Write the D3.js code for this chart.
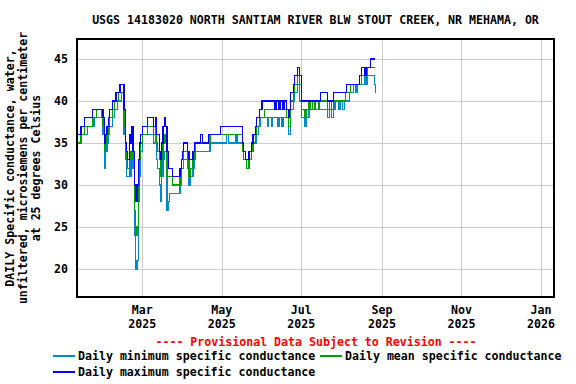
<!DOCTYPE html>
<html>
<head>
<meta charset="utf-8">
<script src="https://cdn.jsdelivr.net/npm/d3@7"></script>
<style>
body { margin: 0; background: #fff; }
text { font-family: "DejaVu Sans Mono", monospace; font-weight: bold; font-size: 11.6px; }
</style>
</head>
<body>
<script>
// daily values, first day 2025-01-10
var startDay = "2025-01-10";

var minVals = [
  35,35,35,36,36,36,36,36,37,37, 37,37,37,38,38,38,38,38,38,38,
  36,32,34,35,36,37,37,38,38,39, 39,40,40,40,41,41,36,33,31,31,
  33,31,33,32,24,20,21,28,31,34, 36,36,36,36,36,36,36,36,36,35,
  36,33,32,30,28,31,33,34,34,27, 28,29,29,29,29,29,29,29,29,30,
  32,32,33,33,33,32,30,31,31,32, 33,34,34,34,34,34,34,34,34,34,
  34,34,35,35,35,35,35,35,35,35, 35,35,35,35,35,36,35,35,35,35,
  35,35,36,35,35,35,35,34,33,33, 32,32,33,33,34,35,35,35,36,37,
  37,38,38,38,38,38,37,38,38,37, 38,38,38,38,37,38,38,37,38,38,
  38,38,36,36,39,39,40,41,41,42, 42,40,38,38,38,37,38,38,39,39,
  39,39,39,39,39,39,39,39,39,39, 39,39,38,38,39,38,38,39,40,40,
  40,39,40,40,39,40,40,40,40,41, 41,41,42,42,41,42,42,42,42,42,
  42,43,42,43,43,43,43,43,42,41
];

var meanVals = [
  35,35,35,36,36,36,37,37,37,37, 37,37,38,38,38,39,39,39,39,38,
  37,34,35,36,37,38,38,39,39,40, 40,40,41,41,41,41,37,34,33,32,
  34,33,34,33,27,24,25,30,33,35, 36,36,36,36,37,37,37,37,37,36,
  37,35,34,33,31,33,35,36,35,31, 31,31,31,30,30,30,30,30,30,31,
  33,33,34,34,34,33,31,32,32,33, 34,35,35,35,35,35,35,35,35,35,
  35,35,36,36,36,36,36,36,36,36, 36,36,36,36,36,36,36,36,36,36,
  36,36,36,36,36,36,36,34,33,33, 32,32,33,33,34,35,35,36,37,37,
  38,38,38,38,39,39,39,39,39,39, 39,39,39,39,39,39,39,39,39,39,
  39,38,37,37,40,40,41,42,42,43, 43,42,39,39,39,38,39,39,40,39,
  39,40,39,40,40,39,40,40,40,40, 40,40,39,39,40,39,39,40,40,40,
  40,40,40,40,40,40,41,41,41,41, 42,42,42,42,42,42,42,42,43,43,
  43,43,43,44,44,44,44,44,44,44
];

var maxVals = [
  36,36,36,37,37,37,38,38,38,38, 38,38,39,39,39,39,39,39,39,39,
  38,35,36,37,38,39,39,40,40,40, 41,41,41,42,42,42,39,35,34,33,
  36,35,37,34,30,28,30,33,35,36, 37,37,37,37,38,38,38,38,38,37,
  38,36,36,34,33,35,37,38,37,34, 32,32,32,31,31,31,31,31,31,32,
  33,34,35,35,35,34,33,33,33,34, 35,35,35,35,35,36,35,35,35,35,
  35,36,36,36,36,36,36,36,36,36, 37,37,37,37,37,37,37,37,37,37,
  37,37,37,37,37,37,37,35,34,33, 33,33,34,34,35,36,36,37,38,38,
  39,39,40,40,40,40,40,40,40,40, 40,40,39,40,40,39,40,40,39,40,
  40,39,38,39,41,41,42,43,43,44, 44,43,40,40,40,40,40,40,40,40,
  40,40,40,40,40,40,40,41,41,41, 41,41,40,40,40,40,40,41,41,41,
  41,41,41,41,41,41,41,42,42,42, 42,42,42,42,42,42,42,43,44,44,
  44,43,44,44,44,45,45,45,45,45
];

var yTicks = [20, 25, 30, 35, 40, 45];

var seriesNames = ["Daily minimum specific conductance",
                   "Daily mean specific conductance",
                   "Daily maximum specific conductance"];
var seriesColors = ["#0088cc", "#00a000", "#0000ff"];

var width = 576, height = 384;
var plot = {left: 77, right: 554, top: 39, bottom: 297};

var svg = d3.select("body").append("svg")
    .attr("width", width)
    .attr("height", height);

var parse = d3.timeParse("%Y-%m-%d");
var t0 = parse(startDay);

var x = d3.scaleTime()
    .domain([parse("2025-01-10"), parse("2026-01-11")])
    .range([plot.left, plot.right]);

var y = d3.scaleLinear()
    .domain([16.67, 47.38])
    .range([plot.bottom, plot.top]);

// grid
svg.append("g")
    .attr("transform", "translate(0," + plot.bottom + ")")
    .call(d3.axisBottom(x).ticks(d3.timeMonth.every(2)).tickSize(-(plot.bottom - plot.top)).tickFormat(""))
    .call(function(g) { g.select(".domain").remove(); })
    .selectAll("line").attr("stroke", "#cccccc").attr("shape-rendering", "crispEdges");

svg.append("g")
    .attr("transform", "translate(" + plot.left + ",0)")
    .call(d3.axisLeft(y).tickValues(yTicks).tickSize(-(plot.right - plot.left)).tickFormat(""))
    .call(function(g) { g.select(".domain").remove(); })
    .selectAll("line").attr("stroke", "#cccccc").attr("shape-rendering", "crispEdges");

// tick labels
svg.selectAll(".ylab")
  .data(yTicks)
  .enter().append("text")
    .attr("x", 68)
    .attr("y", function(d) { return y(d) + 4; })
    .attr("text-anchor", "end")
    .text(function(d) { return d; });

var months = x.ticks(d3.timeMonth.every(2));
var xl = svg.selectAll(".xlab")
  .data(months)
  .enter().append("text")
    .attr("text-anchor", "middle");
xl.append("tspan")
    .attr("x", function(d) { return x(d); })
    .attr("y", 314)
    .text(d3.timeFormat("%b"));
xl.append("tspan")
    .attr("x", function(d) { return x(d); })
    .attr("y", 328)
    .text(d3.timeFormat("%Y"));

// lines
svg.append("clipPath").attr("id", "clip")
  .append("rect")
    .attr("x", plot.left).attr("y", plot.top)
    .attr("width", plot.right - plot.left).attr("height", plot.bottom - plot.top);

var line = d3.line()
    .x(function(d, i) { return x(d3.timeDay.offset(t0, i)); })
    .y(function(d) { return y(d); })
    .curve(d3.curveStepAfter);

[minVals, meanVals, maxVals].forEach(function(vals, k) {
  svg.append("path")
      .datum(vals)
      .attr("clip-path", "url(#clip)")
      .attr("fill", "none")
      .attr("stroke", seriesColors[k])
      .attr("stroke-width", 1.2)
      .attr("shape-rendering", "crispEdges")
      .attr("d", line);
});

// frame
svg.append("rect")
    .attr("x", plot.left).attr("y", plot.top)
    .attr("width", plot.right - plot.left).attr("height", plot.bottom - plot.top)
    .attr("fill", "none")
    .attr("stroke", "#000")
    .attr("stroke-width", 1.3)
    .attr("shape-rendering", "crispEdges");

// title
svg.append("text")
    .attr("x", (plot.left + plot.right) / 2)
    .attr("y", 24)
    .attr("text-anchor", "middle")
    .text("USGS 14183020 NORTH SANTIAM RIVER BLW STOUT CREEK, NR MEHAMA, OR");

// y label
var ylab = ["DAILY Specific conductance, water,",
            "unfiltered, microsiemens per centimeter",
            "at 25 degrees Celsius"];
svg.selectAll(".ytitle")
  .data(ylab)
  .enter().append("text")
    .attr("text-anchor", "middle")
    .attr("transform", function(d, i) { return "translate(" + (14 + i * 13) + "," + ((plot.top + plot.bottom) / 2) + ") rotate(-90)"; })
    .text(function(d) { return d; });

svg.append("text")
    .attr("x", 316)
    .attr("y", 346)
    .attr("text-anchor", "middle")
    .attr("fill", "#ff0000")
    .text("---- Provisional Data Subject to Revision ----");

// legend
var legPos = [{x: 53, y: 356}, {x: 320, y: 356}, {x: 53, y: 372}];
var leg = svg.selectAll(".leg")
  .data(seriesNames)
  .enter().append("g")
    .attr("transform", function(d, i) { return "translate(" + legPos[i].x + "," + legPos[i].y + ")"; });
leg.append("line")
    .attr("x1", 0).attr("x2", 22)
    .attr("stroke", function(d, i) { return seriesColors[i]; })
    .attr("stroke-width", 1.2)
    .attr("shape-rendering", "crispEdges");
leg.append("text")
    .attr("x", 25)
    .attr("y", 4)
    .text(function(d) { return d; });
</script>
</body>
</html>
